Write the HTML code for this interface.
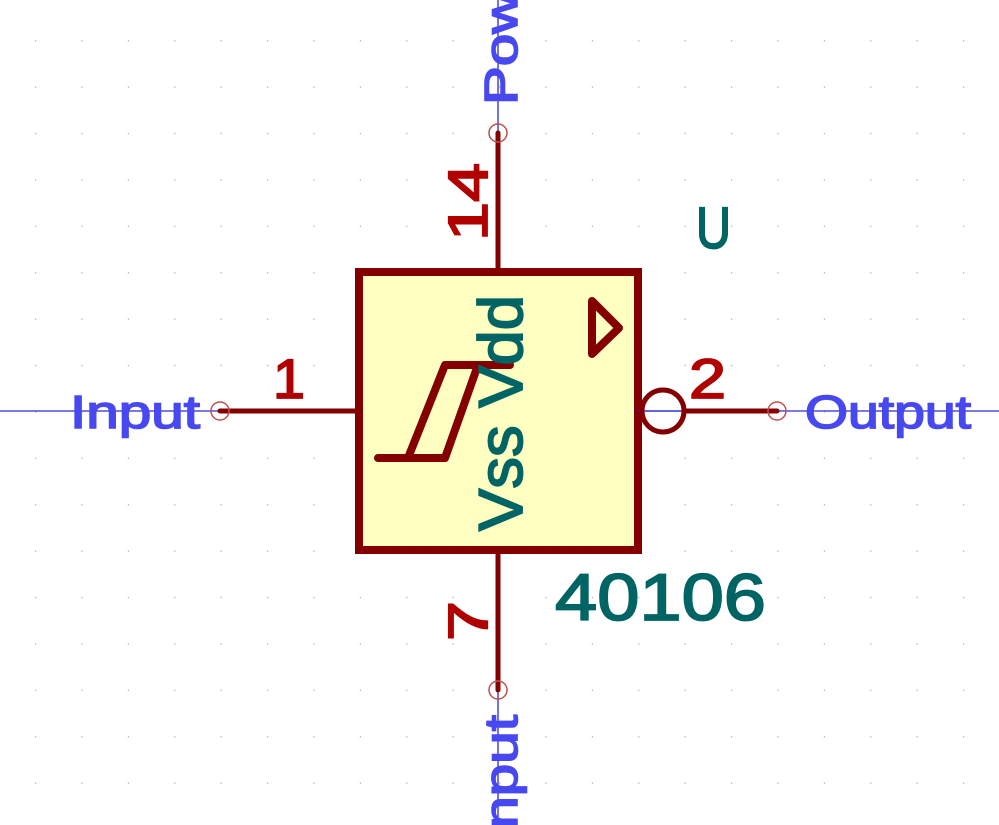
<!DOCTYPE html>
<html><head><meta charset="utf-8"><style>
html,body{margin:0;padding:0;background:#fff;}
svg{display:block;}
text{font-family:"Liberation Sans","DejaVu Sans",sans-serif;}
</style></head><body>
<svg width="999" height="825" viewBox="0 0 999 825">
<g id="grid"></g>
<line x1="0" y1="411" x2="999" y2="411" stroke="#2a2ad0" stroke-width="1.3"/>
<line x1="498" y1="0" x2="498" y2="133" stroke="#2a2ad0" stroke-width="1.3"/>
<line x1="498" y1="690" x2="498" y2="825" stroke="#2a2ad0" stroke-width="1.3"/>
<g stroke="#840000" stroke-width="5" stroke-linecap="round" fill="none">
<line x1="220" y1="411" x2="357" y2="411"/>
<line x1="686" y1="411" x2="777" y2="411"/>
<line x1="498" y1="133" x2="498" y2="270"/>
<line x1="498" y1="552" x2="498" y2="690"/>
</g>
<rect x="359" y="272" width="279" height="278" fill="#ffffc2" stroke="#840000" stroke-width="8"/>
<line x1="638" y1="411" x2="686" y2="411" stroke="#2a2ad0" stroke-width="1.3"/>
<circle cx="663" cy="411" r="21" fill="none" stroke="#840000" stroke-width="5"/>
<polygon points="592,301 619,328 592,354" fill="none" stroke="#840000" stroke-width="8" stroke-linejoin="round"/>
<g fill="none" stroke="#840000" stroke-width="8" stroke-linecap="round" stroke-linejoin="round">
<polyline points="378,458 445,458 478,365 510,365"/>
<polyline points="408,458 445,365 478,365"/>
</g>
<g fill="none" stroke="#c05050" stroke-width="1.5">
<circle cx="220" cy="411" r="9"/>
<circle cx="777" cy="411" r="9"/>
<circle cx="498" cy="133" r="9"/>
<circle cx="498" cy="690" r="9"/>
</g>
<g fill="#4848f0" stroke="#4848f0" stroke-width="1.6" font-size="46">
<text x="70" y="428" textLength="130" lengthAdjust="spacingAndGlyphs">Input</text>
<text x="805" y="428" textLength="166" lengthAdjust="spacingAndGlyphs">Output</text>
<text transform="translate(517,105) rotate(-90)" textLength="165" lengthAdjust="spacingAndGlyphs">Power</text>
<text transform="translate(517,845) rotate(-90)" textLength="130" lengthAdjust="spacingAndGlyphs">Input</text>
</g>
<g fill="#b00000" stroke="#b00000" stroke-width="1.8" font-size="56">
<text x="273" y="398" textLength="32" lengthAdjust="spacingAndGlyphs">1</text>
<text x="689" y="398" textLength="37" lengthAdjust="spacingAndGlyphs">2</text>
<text transform="translate(487,241) rotate(-90)" textLength="78" lengthAdjust="spacingAndGlyphs">14</text>
<text transform="translate(487,641) rotate(-90)" textLength="40" lengthAdjust="spacingAndGlyphs">7</text>
</g>
<g fill="#006464" stroke="#006464" stroke-width="1.8">
<text x="696" y="248" font-size="58" textLength="35" lengthAdjust="spacingAndGlyphs">U</text>
<text x="555" y="620" font-size="66" textLength="211" lengthAdjust="spacingAndGlyphs">40106</text>
<text transform="translate(522,531) rotate(-90)" font-size="62" textLength="236" lengthAdjust="spacingAndGlyphs">Vss Vdd</text>
</g>
</svg>
<script>
var g=document.getElementById('grid');
for(var x=35;x<999;x+=46.4){for(var y=40;y<825;y+=46.4){
var r=document.createElementNS('http://www.w3.org/2000/svg','rect');
r.setAttribute('x',x.toFixed(1));r.setAttribute('y',y.toFixed(1));r.setAttribute('width','1.2');r.setAttribute('height','1.5');r.setAttribute('fill','#b8b8b8');


g.appendChild(r);}}
</script>
</body></html>
